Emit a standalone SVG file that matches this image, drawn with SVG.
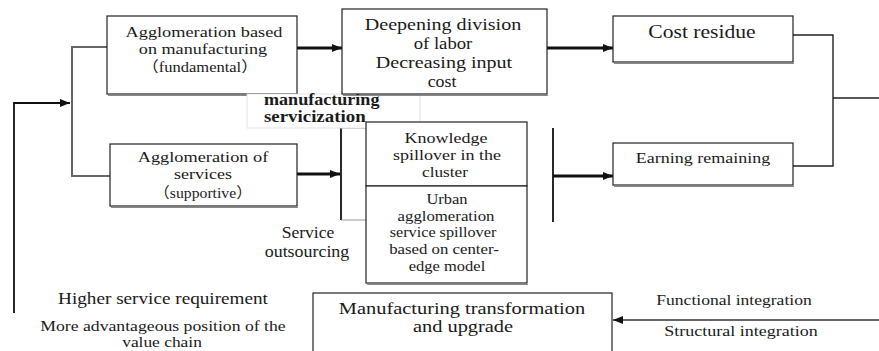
<svg xmlns="http://www.w3.org/2000/svg" width="879" height="351" viewBox="0 0 879 351">
  <style>
    text { font-family: "Liberation Serif", "Times New Roman", serif; fill: #1a1a1a; text-anchor: middle; }
    .cjk { font-family: "Liberation Serif", "Noto Sans CJK SC", serif; }
    .box { fill: #fff; stroke: #222; stroke-width: 1.2; }
    .shadow { fill: none; stroke: #888; stroke-width: 1; }
    .f14 { font-size: 14.5px; }
    .f15 { font-size: 15px; }
    .f16 { font-size: 16px; }
    .f17 { font-size: 17px; }
    .f18 { font-size: 18px; }
    .thick { stroke: #111; stroke-width: 3; fill: none; }
    .mid { stroke: #111; stroke-width: 1.8; fill: none; }
    .thin { stroke: #222; stroke-width: 1.4; fill: none; }
    .grey { stroke: #666; stroke-width: 2; fill: none; }
    .faint { stroke: #999; stroke-width: 1; fill: none; }
  </style>
  <defs>
    <marker id="arr" viewBox="0 0 10 8" refX="10" refY="4" markerWidth="10" markerHeight="8" markerUnits="userSpaceOnUse" orient="auto">
      <path d="M0,0 L10,4 L0,8 Z" fill="#111"/>
    </marker>
  </defs>

  <g id="connectors">
    <!-- feedback loop on the left -->
    <path class="mid" d="M14,313 V103 H70" marker-end="url(#arr)"/>
    <!-- split into the two agglomeration types -->
    <path class="grey" d="M107,47 H72 V176 H110"/>
    <!-- top row -->
    <line class="thick" x1="297" y1="48" x2="342" y2="48" marker-end="url(#arr)"/>
    <line class="thick" x1="547" y1="48" x2="613" y2="48" marker-end="url(#arr)"/>
    <!-- services into the spillover bracket -->
    <line class="thick" x1="297" y1="174" x2="340" y2="174" marker-end="url(#arr)"/>
    <line class="mid" x1="341" y1="128" x2="341" y2="220"/>
    <path class="faint" d="M341,128 H366 M341,220 H366"/>
    <!-- spillover to earnings -->
    <line class="mid" x1="553" y1="128" x2="553" y2="222"/>
    <line class="thick" x1="553" y1="176" x2="613" y2="176" marker-end="url(#arr)"/>
    <!-- residue/earnings merge -->
    <path class="thin" d="M793,35 H833 V166 H793 M833,98 H879"/>
    <!-- integration into transformation -->
    <line class="grey" x1="879" y1="320" x2="613" y2="320" marker-end="url(#arr)"/>
  </g>

  <!-- text is widened with a horizontal scale so the glyphs stay in the serif face -->
  <g id="node-manufacturing">
    <rect class="box" x="107" y="16" width="190" height="78"/>
    <line class="shadow" x1="108" y1="95.5" x2="298" y2="95.5"/>
    <text class="f15" transform="translate(204,37) scale(1.22,1)">Agglomeration based</text>
    <text class="f15" transform="translate(203,54) scale(1.21,1)">on manufacturing</text>
    <text class="f15 cjk" transform="translate(200,72) scale(1.1,1)">（fundamental）</text>
  </g>

  <g id="node-servicization-label">
    <rect x="247" y="94" width="173" height="34" fill="#fff" stroke="#ddd" stroke-width="0.8"/>
    <text class="f16" style="text-anchor:start;font-weight:bold" transform="translate(264,105) scale(1.13,1)">manufacturing</text>
    <text class="f16" style="text-anchor:start;font-weight:bold" transform="translate(264,122) scale(1.18,1)">servicization</text>
  </g>

  <g id="node-division">
    <rect class="box" x="342" y="9" width="205" height="85"/>
    <line class="shadow" x1="343" y1="95.5" x2="548" y2="95.5"/>
    <text class="f17" transform="translate(443,30) scale(1.18,1)">Deepening division</text>
    <text class="f17" transform="translate(443,49) scale(1.1,1)">of labor</text>
    <text class="f17" transform="translate(444,68) scale(1.18,1)">Decreasing input</text>
    <text class="f17" transform="translate(442,87) scale(1.05,1)">cost</text>
  </g>

  <g id="node-cost-residue">
    <rect class="box" x="613" y="16" width="180" height="46"/>
    <line class="shadow" x1="614" y1="63.5" x2="794" y2="63.5"/>
    <text class="f18" transform="translate(702,38) scale(1.2,1)">Cost residue</text>
  </g>

  <g id="node-services">
    <rect class="box" x="110" y="144" width="187" height="62"/>
    <line class="shadow" x1="111" y1="207.5" x2="298" y2="207.5"/>
    <text class="f15" transform="translate(203,162) scale(1.22,1)">Agglomeration of</text>
    <text class="f15" transform="translate(203,179) scale(1.2,1)">services</text>
    <text class="f15 cjk" transform="translate(203,198) scale(1.05,1)">（supportive）</text>
  </g>

  <g id="node-knowledge">
    <rect class="box" x="366" y="122" width="161" height="64"/>
    <text class="f15" transform="translate(446,143) scale(1.2,1)">Knowledge</text>
    <text class="f15" transform="translate(447,160) scale(1.2,1)">spillover in the</text>
    <text class="f15" transform="translate(445,177) scale(1.15,1)">cluster</text>
  </g>

  <g id="node-urban">
    <rect class="box" x="366" y="186" width="161" height="97"/>
    <line class="shadow" x1="367" y1="284.5" x2="528" y2="284.5"/>
    <text class="f15" transform="translate(447,204) scale(1.1,1)">Urban</text>
    <text class="f15" transform="translate(446,221) scale(1.12,1)">agglomeration</text>
    <text class="f15" transform="translate(443,237) scale(1.08,1)">service spillover</text>
    <text class="f15" transform="translate(444,254) scale(1.12,1)">based on center-</text>
    <text class="f15" transform="translate(447,271) scale(1.1,1)">edge model</text>
  </g>

  <g id="node-service-outsourcing">
    <text class="f16" transform="translate(308,238) scale(1.1,1)">Service</text>
    <text class="f16" transform="translate(307,257) scale(1.12,1)">outsourcing</text>
  </g>

  <g id="node-earning">
    <rect class="box" x="613" y="143" width="180" height="42"/>
    <line class="shadow" x1="614" y1="186.5" x2="794" y2="186.5"/>
    <text class="f15" transform="translate(703,163) scale(1.2,1)">Earning remaining</text>
  </g>

  <g id="node-transformation">
    <rect class="box" x="313" y="293" width="299" height="70"/>
    <text class="f17" transform="translate(462,314) scale(1.2,1)">Manufacturing transformation</text>
    <text class="f17" transform="translate(463,332) scale(1.2,1)">and upgrade</text>
  </g>

  <g id="node-requirements">
    <text class="f16" transform="translate(163,304) scale(1.2,1)">Higher service requirement</text>
    <text class="f14" transform="translate(163,331) scale(1.22,1)">More advantageous position of the</text>
    <text class="f14" transform="translate(162,347) scale(1.2,1)">value chain</text>
  </g>

  <g id="node-integration">
    <text class="f15" transform="translate(734,305) scale(1.17,1)">Functional integration</text>
    <text class="f15" transform="translate(741,336) scale(1.2,1)">Structural integration</text>
  </g>
</svg>
